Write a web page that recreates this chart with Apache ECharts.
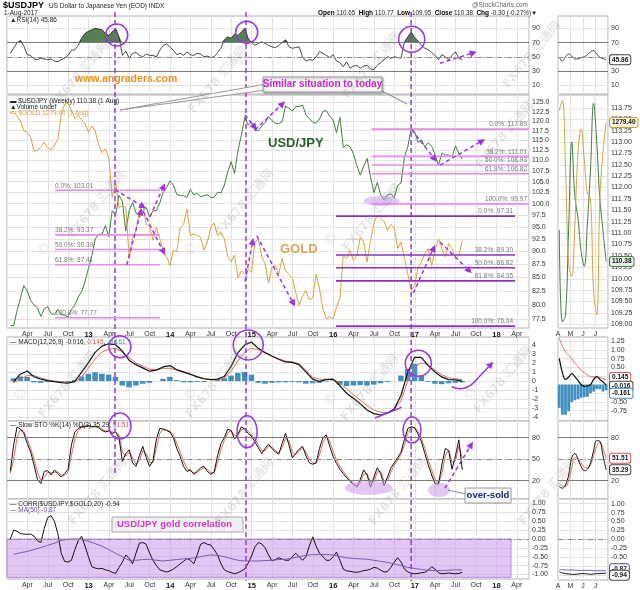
<!DOCTYPE html>
<html><head><meta charset="utf-8">
<script src="https://cdn.jsdelivr.net/npm/echarts@6/dist/echarts.min.js"></script>
<style>html,body{margin:0;padding:0;background:#fff}#c{width:640px;height:590px}</style>
</head><body><div id="c"></div>
<script>
const FONT = 'Liberation Sans, Arial, Helvetica, sans-serif';

// ---------- sampling positions (fractional years / months) ----------
const halfMonthStart = 2012.04, halfMonthStep = 1 / 24;   // semi-monthly samples
const monthStart = 2012.08, monthStep = 1 / 12;            // monthly samples
const sideStart = 0.1, sideStep = 0.25;                    // side panel: months from 1 Apr 2017

// ---------- main panel data ----------
const usdjpy = [
  76.5, 76.4, 79.0, 81.2, 83.5, 82.5, 80.8, 80.0, 79.5, 78.0,
  79.3, 79.7, 78.5, 78.3, 79.2, 78.3, 78.2, 77.9, 79.2, 80.0,
  81.4, 82.4, 84.2, 86.7, 89.2, 92.5, 93.5, 93.5, 95.3, 93.0,
  98.5, 97.5, 101.9, 100.5, 94.2, 98.5, 100.3, 98.0, 97.5, 98.4,
  99.2, 97.2, 98.4, 98.5, 100.2, 102.5, 103.6, 105.2, 104.2, 102.1,
  101.8, 101.8, 101.4, 103.2, 102.0, 102.3, 101.5, 101.8, 102.0, 101.4,
  101.4, 102.6, 102.4, 104.2, 107.3, 109.7, 106.9, 112.4, 116.3, 121.0,
  118.9, 119.8, 117.5, 117.5, 118.7, 119.6, 121.2, 120.1, 119.4, 119.3,
  119.8, 124.1, 123.4, 122.7, 123.9, 123.9, 124.3, 121.7, 120.6, 119.8,
  119.4, 120.6, 122.6, 122.8, 121.3, 120.2, 117.0, 121.0, 113.2, 113.9,
  113.4, 111.6, 108.7, 106.5, 108.6, 110.5, 106.1, 102.5, 104.8, 102.0,
  100.8, 102.0, 102.2, 101.3, 104.2, 104.7, 110.9, 113.5, 118.2, 117.1,
  114.5, 115.1, 113.4, 114.4, 113.5, 111.4, 108.9, 111.8, 111.3, 111.4,
  110.9, 113.6, 111.8, 110.38
];
const gold = [
  1740, 1745, 1725, 1705, 1665, 1660, 1640, 1585, 1590, 1600,
  1620, 1600, 1590, 1610, 1630, 1730, 1775, 1780, 1750, 1715,
  1730, 1710, 1695, 1660, 1685, 1665, 1610, 1580, 1595, 1560,
  1420, 1470, 1385, 1390, 1385, 1225, 1290, 1310, 1375, 1395,
  1330, 1325, 1280, 1320, 1285, 1250, 1230, 1205, 1250, 1245,
  1320, 1330, 1380, 1295, 1300, 1295, 1290, 1250, 1275, 1320,
  1335, 1295, 1305, 1285, 1230, 1215, 1235, 1170, 1190, 1180,
  1195, 1185, 1275, 1285, 1230, 1210, 1155, 1200, 1205, 1180,
  1225, 1190, 1180, 1170, 1130, 1095, 1120, 1135, 1110, 1115,
  1180, 1140, 1085, 1060, 1065, 1060, 1090, 1115, 1235, 1225,
  1250, 1220, 1235, 1290, 1275, 1215, 1280, 1335, 1360, 1350,
  1340, 1310, 1330, 1320, 1255, 1275, 1225, 1180, 1135, 1150,
  1200, 1215, 1240, 1255, 1205, 1250, 1285, 1255, 1230, 1270,
  1255, 1225, 1235, 1279.4
];
const rsi14 = [
  55, 62, 70, 73, 65, 53, 52, 47, 46, 48,
  47, 46, 47, 44, 43, 46, 48, 52, 59, 60,
  66, 76, 83, 86, 88, 90, 89, 88, 83, 80,
  85, 90, 78, 52, 58, 48, 55, 56, 52, 50,
  54, 52, 52, 50, 59, 66, 68, 64, 59, 53,
  55, 52, 57, 53, 52, 55, 54, 50, 51, 49,
  50, 56, 62, 74, 78, 76, 82, 80, 85, 90,
  76, 70, 66, 69, 71, 69, 66, 64, 63, 66,
  70, 74, 64, 62, 63, 64, 50, 44, 46, 45,
  50, 57, 55, 52, 49, 53, 44, 42, 36, 43,
  34, 37, 38, 34, 37, 38, 33, 32, 38, 42,
  46, 50, 48, 50, 49, 48, 71, 78, 85, 77,
  72, 66, 62, 60, 56, 52, 46, 53, 50, 46,
  52, 57, 48, 45.86
];
const stoK = [
  33, 70, 95, 92, 86, 72, 60, 42, 22, 16,
  33, 34, 28, 35, 30, 25, 30, 36, 70, 88,
  93, 95, 96, 97, 95, 96, 94, 90, 88, 90,
  86, 88, 80, 47, 58, 63, 45, 40, 55, 68,
  52, 40, 48, 78, 93, 92, 90, 88, 80, 65,
  54, 40, 33, 35, 29, 33, 38, 40, 33, 29,
  32, 55, 72, 80, 92, 90, 78, 85, 95, 92,
  86, 82, 74, 66, 58, 65, 71, 65, 60, 57,
  72, 86, 70, 52, 58, 64, 68, 55, 45, 43,
  45, 65, 80, 84, 68, 54, 44, 36, 30, 24,
  19, 15, 11, 22, 35, 28, 11, 25, 38, 30,
  13, 25, 38, 45, 52, 60, 78, 93, 95, 94,
  85, 74, 58, 42, 28, 16, 15, 42, 65, 62,
  36, 55, 77, 35.29
];
const stoD = [
  30, 50, 80, 92, 89, 78, 65, 50, 32, 20,
  25, 32, 31, 32, 32, 28, 28, 32, 55, 78,
  90, 94, 95, 96, 96, 95, 95, 92, 89, 89,
  88, 87, 84, 60, 54, 60, 52, 43, 48, 62,
  58, 46, 45, 65, 86, 92, 91, 89, 84, 72,
  60, 47, 37, 34, 31, 32, 35, 38, 36, 31,
  31, 45, 64, 76, 87, 90, 83, 83, 91, 93,
  89, 84, 78, 70, 62, 62, 68, 67, 62, 59,
  66, 79, 76, 60, 56, 61, 66, 60, 50, 45,
  44, 56, 73, 82, 75, 61, 49, 40, 33, 27,
  21, 17, 13, 17, 29, 30, 18, 19, 32, 33,
  20, 20, 32, 42, 49, 57, 70, 87, 94, 94,
  89, 79, 65, 49, 35, 22, 16, 30, 55, 63,
  46, 48, 68, 51.51
];
const corr20 = [
  0.0, 0.25, 0.22, 0.15, 0.14, 0.13, 0.14, 0.08, -0.05, -0.1,
  0.3, 0.6, 0.66, 0.5, 0.15, -0.4, -0.63, -0.65, -0.6, -0.3,
  -0.05, 0.08, -0.2, -0.5, -0.78, -0.82, -0.84, -0.83, -0.87, -0.89,
  -0.94, -0.97, -0.8, -0.65, -0.45, -0.55, -0.7, -0.4, -0.12, -0.1,
  -0.15, -0.4, -0.6, -0.75, -0.87, -0.9, -0.93, -0.9, -0.85, -0.78,
  -0.7, -0.63, -0.55, -0.6, -0.7, -0.45, -0.15, -0.1, -0.15, -0.17,
  -0.3, -0.45, -0.7, -0.87, -0.92, -0.95, -0.98, -0.95, -0.9, -0.85,
  -0.68, -0.48, -0.22, -0.1, -0.14, -0.25, -0.45, -0.62, -0.58, -0.53,
  -0.57, -0.6, -0.6, -0.5, -0.4, -0.5, -0.6, -0.5, -0.2, 0.06,
  -0.2, -0.4, -0.5, -0.6, -0.6, -0.5, -0.37, -0.6, -0.85, -0.9,
  -0.91, -0.93, -0.94, -0.92, -0.89, -0.88, -0.85, -0.8, -0.82, -0.88,
  -0.93, -0.92, -0.8, -0.65, -0.53, -0.65, -0.85, -0.93, -0.97, -0.98,
  -0.97, -0.95, -0.94, -0.88, -0.78, -0.85, -0.95, -0.98, -0.97, -0.96,
  -0.97, -0.98, -0.97, -0.94
];
const macdLine = [
  -0.1, 0.75, 1.1, 0.47, 0.2, 0.05, -0.07, -0.18, -0.25, -0.05,
  0.95, 2.0, 3.15, 3.85, 4.1, 4.0, 3.3, 2.3, 1.8, 1.45,
  1.08, 1.2, 1.55, 1.7, 1.25, 1.0, 0.75, 0.45, 0.25, 0.15,
  0.2, 0.5, 1.6, 3.1, 3.95, 4.3, 3.6, 3.15, 2.75, 2.4,
  2.1, 2.05, 1.8, 1.0, 0.2, -0.05, 0.15, 0.2, -0.5, -1.35,
  -1.9, -2.5, -3.2, -3.6, -3.75, -3.55, -3.1, -1.6, 0.95, 2.6,
  2.6, 1.7, 1.0, 0.45, 0.15, 0.12, -0.016
];
const macdSignal = [
  -0.2, 0.2, 0.6, 0.6, 0.35, 0.12, 0.0, -0.1, -0.18, -0.12,
  0.4, 1.4, 2.4, 3.2, 3.5, 3.6, 3.2, 2.6, 2.0, 1.65,
  1.3, 1.25, 1.4, 1.4, 1.2, 0.95, 0.75, 0.5, 0.3, 0.15,
  0.1, 0.35, 1.05, 2.2, 3.2, 3.6, 3.45, 3.1, 2.75, 2.45,
  2.2, 2.1, 1.9, 1.2, 0.4, 0.2, 0.2, 0.19, -0.2, -0.85,
  -1.5, -2.1, -2.7, -3.2, -3.45, -3.5, -3.1, -2.2, 0.0, 1.5,
  2.0, 1.8, 1.2, 0.7, 0.35, 0.25, 0.145
];
const macdHist = [
  0.3, 0.5, 0.45, -0.15, -0.2, -0.1, -0.1, -0.1, -0.1, 0.1,
  0.5, 0.8, 0.95, 0.8, 0.7, 0.45, -0.5, -0.7, -0.5, -0.3,
  -0.2, 0.0, 0.25, 0.45, 0.1, -0.15, -0.15, -0.1, -0.1, 0.0,
  0.15, 0.3, 0.6, 0.9, 1.0, 0.7, -0.2, -0.3, -0.2, -0.15,
  -0.15, -0.1, -0.15, -0.3, -0.25, -0.2, -0.05, 0.05, -0.4, -0.55,
  -0.5, -0.45, -0.5, -0.4, -0.25, -0.1, 0.0, 0.6, 1.3, 1.9,
  0.6, -0.1, -0.3, -0.35, -0.25, -0.2, -0.161
];
const corrMa50 = [
  -0.43, -0.39, -0.35, -0.3, -0.24, -0.18, -0.12, -0.04, -0.01, 0.0,
  -0.01, -0.06, -0.13, -0.2, -0.3, -0.4, -0.5, -0.6, -0.6, -0.58,
  -0.57, -0.6, -0.62, -0.6, -0.58, -0.56, -0.55, -0.52, -0.48, -0.45,
  -0.46, -0.5, -0.55, -0.6, -0.62, -0.62, -0.62, -0.61, -0.6, -0.58,
  -0.57, -0.54, -0.5, -0.46, -0.44, -0.44, -0.44, -0.45, -0.49, -0.53,
  -0.55, -0.56, -0.57, -0.6, -0.63, -0.66, -0.7, -0.75, -0.8, -0.83,
  -0.86, -0.88, -0.89, -0.89, -0.88, -0.87, -0.87
];

// ---------- side panel data (Apr-Jul 2017) ----------
const sideRsi = [49.3, 44, 50, 54, 51, 47, 47, 49, 50, 53, 57, 59, 54, 49, 47.5, 45.86];
const sideUsd = [111.07, 109.05, 109.2, 111.1, 113.0, 111.8, 111.33, 110.6, 110.27, 111.2, 112.4, 113.85, 113.0, 111.75, 111.05, 110.38];
const sideGold = [1284, 1288, 1262, 1225, 1220, 1240, 1268, 1277, 1265, 1252, 1250, 1214, 1205, 1250, 1268, 1279.4];
const sideMacd = [0.76, 0.35, 0.15, 0.22, 0.32, 0.23, 0.12, 0.0, -0.05, -0.04, 0.0, 0.15, 0.23, 0.15, 0.08, -0.016];
const sideSignal = [1.35, 1.1, 0.95, 0.85, 0.75, 0.62, 0.52, 0.42, 0.35, 0.28, 0.23, 0.22, 0.23, 0.2, 0.17, 0.145];
const sideHist = [-0.67, -0.87, -0.87, -0.77, -0.5, -0.45, -0.42, -0.38, -0.36, -0.35, -0.25, -0.2, -0.13, -0.13, -0.2, -0.161];
const sideK = [12, 9.5, 14, 28, 52, 58, 50, 40, 34, 36, 45, 62, 76, 75, 55, 35.29];
const sideD = [16, 12.5, 12, 20, 38, 52, 51, 45, 39, 38, 42, 55, 68, 74, 65, 51.51];
const sideCorr = [-0.9, -0.93, -0.95, -0.96, -0.97, -0.97, -0.96, -0.95, -0.95, -0.96, -0.97, -0.96, -0.95, -0.95, -0.94, -0.94];
const sideMa = [-0.84, -0.84, -0.85, -0.85, -0.85, -0.85, -0.86, -0.86, -0.86, -0.86, -0.86, -0.87, -0.87, -0.87, -0.87, -0.87];

// ---------- tick labels ----------
const quarterLabels = ['', 'Apr', 'Jul', 'Oct'];
const sideMonthLabels = ['A', 'M', 'J', 'J'];
const rsiTicks = [10, 30, 50, 70, 90];
const priceTicks = [77.5, 80, 82.5, 85, 87.5, 90, 92.5, 95, 97.5, 100, 102.5, 105, 107.5, 110, 112.5, 115, 117.5, 120, 122.5, 125];
const sidePriceTicks = [109, 109.25, 109.5, 109.75, 110, 110.25, 110.5, 110.75, 111, 111.25, 111.5, 111.75, 112, 112.25, 112.5, 112.75, 113, 113.25, 113.5, 113.75];
const macdTicks = [-4, -3, -2, -1, 0, 1, 2, 3, 4];
const sideMacdTicks = [-0.75, -0.5, -0.25, 0, 0.25, 0.5, 0.75, 1, 1.25];
const stoTicks = [20, 50, 80];
const corrTicks = [-1, -0.75, -0.5, -0.25, 0, 0.25, 0.5, 0.75, 1];
const RSI_OB = 70;

// ---------- annotations (data coordinates) ----------
const vLines = [2013.324, 2014.93, 2016.955];
const fib2013 = [['0.0%: 103.01', 103.01], ['38.2%: 93.37', 93.37], ['50.0%: 90.39', 90.39], ['61.8%: 87.41', 87.41], ['100.0%: 77.77', 77.77]];
const fibUsd16 = [['0.0%: 117.89', 117.89], ['38.2%: 111.01', 111.01], ['50.0%: 108.93', 108.93], ['61.8%: 106.82', 106.82], ['100.0%: 99.97', 99.97]];
const fibGold16 = [['0.0%: 97.31', 97.31], ['38.2%: 89.30', 89.30], ['50.0%: 86.82', 86.82], ['61.8%: 84.35', 84.35], ['100.0%: 76.34', 76.34]];
const priceArrows = [
  [2013.324, 103.1, 2013.704, 99.0], [2013.753, 97.2, 2013.937, 104.6],
  [2013.468, 87.4, 2013.652, 99.0], [2013.671, 98.3, 2013.937, 89.3],
  [2014.918, 121.7, 2015.062, 117.7], [2015.041, 117.7, 2015.409, 125.3],
  [2014.918, 84.2, 2015.020, 92.7], [2015.062, 93.2, 2015.531, 79.7],
  [2016.962, 117.7, 2017.268, 109.7], [2017.309, 108.9, 2017.861, 115.3],
  [2016.982, 82.1, 2017.248, 91.3], [2017.309, 91.9, 2017.698, 85.8]
];

const pairs = (vals, start, step) => vals.map((v, i) => [start + i * step, v]);

function qLabel(v) {
  const y = Math.floor(v + 1e-6);
  const f = (v - y) * 4;
  const q = Math.round(f);
  if (Math.abs(f - q) > 0.02 || q > 3) return '';
  if (q === 0) return v < 2012.5 ? '' : '{b|' + String(y).slice(2) + '}';
  return quarterLabels[q];
}

const chart = echarts.init(document.getElementById('c'), null, { renderer: 'canvas' });

const gridBase = { show: true, borderColor: '#b0b0b0', borderWidth: 1, backgroundColor: '#fff' };
const rows = [[16, 78], [95, 233], [337, 84], [421, 78], [499, 83]];
const grids = [];
rows.forEach(r => grids.push(Object.assign({ left: 7, right: 111, top: r[0], height: r[1] }, gridBase)));
rows.forEach(r => grids.push(Object.assign({ left: 558, right: 32, top: r[0], height: r[1] }, gridBase)));

const SPLIT = { show: true, lineStyle: { color: '#e2e2e2', width: 1 } };
const xAxes = [];
for (let g = 0; g < 5; g++) {
  xAxes.push({
    type: 'value', gridIndex: g, min: 2012, max: 2018.4, interval: 0.25,
    axisLine: { show: false }, axisTick: { show: false }, splitLine: SPLIT,
    axisLabel: { show: g === 1 || g === 4, formatter: qLabel, fontSize: 7, color: '#333', margin: 3, fontFamily: FONT,
      showMinLabel: false, showMaxLabel: false, rich: { b: { fontWeight: 'bold', fontSize: 7.5, color: '#111', fontFamily: FONT } } }
  });
}
for (let g = 5; g < 10; g++) {
  xAxes.push({
    type: 'value', gridIndex: g, min: 0, max: 4, interval: 1,
    axisLine: { show: false }, axisTick: { show: false }, splitLine: SPLIT,
    axisLabel: { show: g === 6 || g === 9, formatter: v => sideMonthLabels[Math.round(v)] || '', fontSize: 7, color: '#333', margin: 3, fontFamily: FONT, showMaxLabel: false }
  });
}

function yax(grid, min, max, ticks, fmt, extra) {
  return Object.assign({
    type: 'value', gridIndex: grid, position: 'right', min: min, max: max,
    axisLine: { show: false }, axisTick: { show: false, customValues: ticks },
    axisLabel: { customValues: ticks, formatter: fmt, fontSize: 7, color: '#333', margin: 3, fontFamily: FONT },
    splitLine: SPLIT
  }, extra || {});
}
const f0 = v => String(v), f1 = v => v.toFixed(1), f2 = v => v.toFixed(2);
const yAxes = [
  yax(0, -2.2, 107.3, rsiTicks, f0),
  yax(1, 76.03, 127.1, priceTicks, f1, { type: 'log', logBase: 10 }),
  { type: 'log', logBase: 10, gridIndex: 1, show: false, min: 1037, max: 1815 },
  yax(2, -4.41, 4.85, macdTicks, f0),
  yax(3, -5.5, 103.3, stoTicks, f0),
  yax(4, -1.128, 1.128, corrTicks, f2),
  yax(5, -2.2, 107.3, rsiTicks, f0),
  yax(6, 108.92, 114.03, sidePriceTicks, f2),
  { type: 'value', gridIndex: 6, show: false, min: 1200, max: 1290 },
  yax(7, -1.05, 1.375, sideMacdTicks, f2),
  yax(8, -5.5, 103.3, stoTicks, f0),
  yax(9, -1.128, 1.128, corrTicks, f2)
];

const refLines = (solid, dashed) => ({
  silent: true, symbol: ['none', 'none'], label: { show: false }, animation: false,
  data: solid.map(v => ({ yAxis: v, lineStyle: { color: '#7a7a7a', width: 1, type: 'solid' } }))
    .concat(dashed.map(v => ({ yAxis: v, lineStyle: { color: '#8a8a8a', width: 1, type: [5, 2, 1, 2] } })))
});

const series = [];
const idx = {};
function add(name, s) { idx[name] = series.length; series.push(Object.assign({ name: name, animation: false, silent: true }, s)); }
function L(xa, ya, data, color, width, extra) {
  return Object.assign({ type: 'line', xAxisIndex: xa, yAxisIndex: ya, data: data, showSymbol: false, symbol: 'none',
    lineStyle: { color: color, width: width }, z: 3 }, extra || {});
}
const H = (v) => pairs(v, halfMonthStart, halfMonthStep);
const M = (v) => pairs(v, monthStart, monthStep);
const S = (v) => pairs(v, sideStart, sideStep);

// main RSI, with the overbought zone (above 70) filled from the 70 line
add('rsiOB', L(0, 0, H(rsi14.map(v => Math.max(v, RSI_OB))), '#000', 0, { lineStyle: { width: 0, opacity: 0 }, areaStyle: { origin: RSI_OB, color: '#4e774e', opacity: 0.95 }, z: 2 }));
add('rsi', L(0, 0, H(rsi14), '#1a1a1a', 0.8, { markLine: refLines([70, 30], [50]) }));
// price
add('usd', L(1, 1, H(usdjpy), '#3f7f3f', 1));
add('gold', L(1, 2, H(gold), '#dba23c', 1));
// MACD
add('hist', { type: 'bar', xAxisIndex: 2, yAxisIndex: 3, data: M(macdHist), barWidth: 5.5, itemStyle: { color: '#3f8fbf' }, z: 2 });
add('signal', L(2, 3, M(macdSignal), '#e06b5e', 1));
add('macd', L(2, 3, M(macdLine), '#111', 1.2));
// STO
add('stoD', L(3, 4, H(stoD), '#e06b5e', 1, { markLine: refLines([80, 20], [50]) }));
add('stoK', L(3, 4, H(stoK), '#111', 1));
// CORR
add('corr', L(4, 5, H(corr20), '#111', 1, {
  z: 4,
  markLine: refLines([], [0]),
  markArea: { silent: true, itemStyle: { color: 'rgba(205,160,240,0.6)', borderColor: '#b888e0', borderWidth: 1 },
    data: [[{ xAxis: 2012, yAxis: 0 }, { xAxis: 2018.18, yAxis: -1.08 }]] }
}));
add('ma', L(4, 5, M(corrMa50), '#7a5cae', 1, { z: 4 }));
// side panels
add('sRsi', L(5, 6, S(sideRsi), '#1a1a1a', 0.8, { smooth: 0.3, markLine: refLines([70, 30], [50]) }));
add('sUsd', L(6, 7, S(sideUsd), '#3f7f3f', 1, { smooth: 0.4 }));
add('sGold', L(6, 8, S(sideGold), '#dba23c', 1, { smooth: 0.4 }));
add('sHist', { type: 'bar', xAxisIndex: 7, yAxisIndex: 9, data: S(sideHist), barWidth: 2.8, itemStyle: { color: '#3f8fbf' }, z: 2 });
add('sSignal', L(7, 9, S(sideSignal), '#e06b5e', 1, { smooth: 0.4 }));
add('sMacd', L(7, 9, S(sideMacd), '#111', 1.2, { smooth: 0.4 }));
add('sD', L(8, 10, S(sideD), '#e06b5e', 1, { smooth: 0.4, markLine: refLines([80, 20], [50]) }));
add('sK', L(8, 10, S(sideK), '#111', 1, { smooth: 0.4 }));
add('sCorr', L(9, 11, S(sideCorr), '#111', 1, { smooth: 0.3, markLine: refLines([], [0]) }));
add('sMa', L(9, 11, S(sideMa), '#7a5cae', 1, { smooth: 0.3 }));

chart.setOption({
  backgroundColor: '#fff', animation: false, textStyle: { fontFamily: FONT },
  grid: grids, xAxis: xAxes, yAxis: yAxes, series: series
});

// ---------- annotation layer ----------
const G = [];
const P = (s, x, y) => chart.convertToPixel({ seriesIndex: idx[s] }, [x, y]);
const PURPLE = '#9b35e0';
function txt(x, y, text, opt) {
  G.push({ type: 'text', x: x, y: y, z: 70, silent: true,
    style: Object.assign({ text: text, fill: '#222', fontSize: 7, fontFamily: FONT, align: 'left', verticalAlign: 'middle' }, opt || {}) });
}
function seg(x1, y1, x2, y2, color, w, dash) {
  G.push({ type: 'line', z: 60, silent: true, shape: { x1: x1, y1: y1, x2: x2, y2: y2 }, style: { stroke: color, lineWidth: w, lineDash: dash || null } });
}
function arrowPx(a, b, dashed, color) {
  const dx = b[0] - a[0], dy = b[1] - a[1], Ln = Math.hypot(dx, dy), ux = dx / Ln, uy = dy / Ln;
  const hl = 7, hw = 3.5, bx = b[0] - ux * hl, by = b[1] - uy * hl;
  seg(a[0], a[1], bx, by, color, 1.5, dashed ? [4, 3] : null);
  G.push({ type: 'polygon', z: 61, silent: true, shape: { points: [[b[0], b[1]], [bx - uy * hw, by + ux * hw], [bx + uy * hw, by - ux * hw]] }, style: { fill: color } });
}
function ell(cx, cy, rx, ry, stroke, fill) {
  G.push({ type: 'ellipse', z: 58, silent: true, shape: { cx: cx, cy: cy, rx: rx, ry: ry }, style: { stroke: stroke || 'none', fill: fill || 'none', lineWidth: 1.5 } });
}

// watermarks
[[80, 75], [218, 80], [372, 66], [532, 55], [97, 205], [245, 203], [372, 218], [505, 135], [68, 385], [215, 385], [370, 388], [503, 380], [98, 492], [245, 492], [398, 492], [548, 492]].forEach(p => {
  G.push({ type: 'text', x: p[0], y: p[1], rotation: 0.87, z: 90, silent: true,
    style: { text: 'FX678 汇通网', fill: 'rgba(140,140,140,0.22)', fontSize: 12, fontWeight: 'bold', fontFamily: 'DejaVu Sans, Noto Sans CJK SC, sans-serif', align: 'center', verticalAlign: 'middle' } });
});
[[43, 250], [190, 250], [330, 240], [20, 395], [190, 395], [330, 400], [470, 395], [610, 230]].forEach(p => {
  txt(p[0], p[1], '©', { fill: 'rgba(140,140,140,0.25)', fontSize: 15, align: 'center' });
});

// vertical dashed lines
vLines.forEach((t, k) => {
  const x = P('usd', t, 100)[0];
  seg(x, 12, x, k === 0 ? 473 : 581, PURPLE, 1.5, [5, 3]);
});

// fib lines
function fibSet(levels, t1, t2, color, alignRight) {
  levels.forEach(l => {
    const a = P('usd', t1, l[1]), b = P('usd', t2, l[1]);
    seg(a[0], a[1], b[0], b[1], color, 1.6);
    if (alignRight) txt(b[0] - 2, a[1] - 4.5, l[0], { fill: '#777', fontSize: 6.5, align: 'right' });
    else txt(a[0], a[1] - 4.5, l[0], { fill: '#777', fontSize: 6.5 });
  });
}
fibSet(fib2013, 2012.589, 2013.876, '#e98ae9', false);
fibSet(fibUsd16, 2016.472, 2018.4, '#e98ae9', true);
fibSet(fibGold16, 2016.034, 2018.229, '#8a2fc8', true);

// arrows in price panel
priceArrows.forEach(a => arrowPx(P('usd', a[0], a[1]), P('usd', a[2], a[3]), true, PURPLE));
// RSI arrow
arrowPx(P('rsi', 2017.309, 40.9), P('rsi', 2017.759, 57.2), true, PURPLE);
// STO arrow
arrowPx(P('stoK', 2017.37, 9.8), P('stoK', 2017.713, 74.4), true, PURPLE);
// MACD curved arrow
const mc = [[2017.452, -0.63], [2017.615, -0.77], [2017.775, 0.33], [2017.93, 1.9]].map(p => P('macd', p[0], p[1]));
G.push({ type: 'polyline', z: 60, silent: true, shape: { points: mc.slice(0, 3), smooth: 0.5 }, style: { stroke: PURPLE, lineWidth: 1.5, fill: 'none' } });
arrowPx(mc[2], P('macd', 2017.963, 2.13), false, PURPLE);
const ml1 = P('macd', 2016.512, -4.08), ml2 = P('macd', 2016.839, -2.9);
seg(ml1[0], ml1[1], ml2[0], ml2[1], PURPLE, 1.5);

// circles
[['rsi', 2013.345, 80.6, 11], ['rsi', 2014.939, 84.4, 11], ['rsi', 2016.962, 74.6, 13],
 ['macd', 2013.385, 3.78, 11], ['macd', 2014.958, 3.97, 15], ['macd', 2017.043, 1.95, 13]].forEach(c => {
  const p = P(c[0], c[1], c[2]); ell(p[0], p[1], c[3], c[3], PURPLE);
});
[[2013.385, 96.3, 11, 13], [2014.943, 88.4, 10, 16], [2016.966, 90.7, 9, 13]].forEach(c => {
  const p = P('stoK', c[0], c[1]); ell(p[0], p[1], c[2], c[3], PURPLE);
});
[[2016.438, 9.8, 24, 7], [2017.297, 7, 11, 7]].forEach(c => {
  const p = P('stoK', c[0], c[1]); ell(p[0], p[1], c[2], c[3], null, 'rgba(205,160,240,0.6)');
});
const ue = P('usd', 2016.594, 100.6); ell(ue[0], ue[1], 18, 5, null, 'rgba(205,160,240,0.6)');

// callout "Similar situation to today"
const vx0 = P('usd', vLines[0], 100)[0], vx2 = P('usd', vLines[2], 100)[0];
G.push({ type: 'polygon', z: 62, silent: true, shape: { points: [[266, 84], [266, 90], [vx0 + 5, 110]] }, style: { fill: '#fafafa', stroke: '#999', lineWidth: 1 } });
G.push({ type: 'polygon', z: 62, silent: true, shape: { points: [[372, 86], [380, 90], [vx2 - 4, 104]] }, style: { fill: '#fafafa', stroke: '#999', lineWidth: 1 } });
G.push({ type: 'rect', z: 63, silent: true, shape: { x: 263, y: 77, width: 119, height: 15 }, style: { fill: '#f7f7f7', stroke: '#999', lineWidth: 1, shadowBlur: 2, shadowColor: 'rgba(0,0,0,0.3)', shadowOffsetX: 1, shadowOffsetY: 1 } });
G.push({ type: 'text', x: 322.5, y: 84.5, z: 64, silent: true, style: { text: 'Similar situation to today', fill: '#cc22cc', fontSize: 10, fontWeight: 'bold', fontFamily: FONT, align: 'center', verticalAlign: 'middle' } });

txt(75, 79, 'www.angraders.com', { fill: '#e8921e', fontSize: 10.5, fontWeight: 'bold' });
txt(268, 143, 'USD/JPY', { fill: '#2d5f2d', fontSize: 13, fontWeight: 'bold' });
txt(280, 249, 'GOLD', { fill: '#e3a458', fontSize: 13, fontWeight: 'bold' });

// over-sold box
seg(448, 490, 466, 494, '#888', 1);
G.push({ type: 'rect', z: 63, silent: true, shape: { x: 465, y: 488, width: 46, height: 15 }, style: { fill: '#f7f7f7', stroke: '#999', lineWidth: 1 } });
txt(488, 495.5, 'over-sold', { fill: '#1c2a78', fontSize: 9.5, fontWeight: 'bold', align: 'center' });

// correlation box
G.push({ type: 'rect', z: 63, silent: true, shape: { x: 112, y: 517, width: 131, height: 15 }, style: { fill: '#efefef', stroke: '#aaa', lineWidth: 1 } });
txt(117, 524.5, 'USD/JPY gold correlation', { fill: '#d633c8', fontSize: 9.5, fontWeight: 'bold' });

// headers
txt(3, 6, '$USDJPY', { fill: '#000', fontSize: 9, fontWeight: 'bold' });
txt(49, 6, 'US Dollar to Japanese Yen (EOD) INDX', { fill: '#222', fontSize: 6.5 });
txt(4, 13, '1-Aug-2017', { fill: '#222', fontSize: 6.5 });
txt(10, 20, '▲RSI(14) 45.86', { fill: '#222', fontSize: 6.5 });
txt(528, 5.5, '@StockCharts.com', { fill: '#666', fontSize: 6.5, align: 'right' });
G.push({ type: 'text', x: 318, y: 13, z: 70, silent: true, style: {
  text: '{b|Open} 110.65  {b|High} 110.77  {b|Low} 109.95  {b|Close} 110.38  {b|Chg} -0.30 (-0.27%)▼',
  fill: '#222', fontSize: 6.3, fontFamily: FONT, verticalAlign: 'middle',
  rich: { b: { fontWeight: 'bold', fontSize: 6.5, fill: '#000', fontFamily: FONT } } } });

// panel legends
txt(10, 101, '▬ $USDJPY (Weekly) 110.38 (1 Aug)', { fill: '#222', fontSize: 6.5 });
txt(10, 107, '▲Volume undef', { fill: '#222', fontSize: 6.5 });
txt(10, 113, '— $GOLD 1279.40 (1 Aug)', { fill: '#d6a24a', fontSize: 6.5 });
G.push({ type: 'text', x: 10, y: 342, z: 70, silent: true, style: {
  text: '— MACD(12,26,9) -0.016, {r|0.145}, {u|-0.161}', fill: '#222', fontSize: 6.5, fontFamily: FONT, verticalAlign: 'middle',
  rich: { r: { fill: '#d9534f', fontSize: 6.5 }, u: { fill: '#3f8fbf', fontSize: 6.5 } } } });
G.push({ type: 'text', x: 10, y: 425, z: 70, silent: true, style: {
  text: '— Slow STO %K(14) %D(3) 35.29, {r|51.51}', fill: '#222', fontSize: 6.5, fontFamily: FONT, verticalAlign: 'middle',
  rich: { r: { fill: '#d9534f', fontSize: 6.5 } } } });
txt(10, 504, '— CORR($USDJPY,$GOLD,20) -0.94', { fill: '#222', fontSize: 6.5 });
txt(10, 510.5, '— MA(50) -0.87', { fill: '#6a4ca0', fontSize: 6.5 });

// side value tags
function tag(s, x, v, text, border, bg, dy) {
  const p = P(s, x, v);
  G.push({ type: 'text', x: 610, y: p[1] + (dy || 0), z: 80, silent: true, style: {
    text: text, fill: '#111', fontSize: 6.5, fontFamily: FONT, verticalAlign: 'middle', fontWeight: 'bold',
    backgroundColor: bg || '#fff', borderColor: border, borderWidth: 1, borderRadius: 2, padding: [1, 2] } });
}
tag('sRsi', 3.85, 45.86, '45.86', '#444');
tag('sGold', 3.85, 1279.4, '1279.40', '#c9a040', '#fff6dc');
tag('sUsd', 3.85, 110.38, '110.38', '#3f7f3f', '#e6f2e6');
tag('sSignal', 3.85, 0.145, '0.145', '#d9534f', '#fff', -2);
tag('sMacd', 3.85, -0.016, '-0.016', '#444', '#fff', 1);
tag('sHist', 3.85, -0.161, '-0.161', '#3f8fbf', '#fff', 3);
tag('sD', 3.85, 51.51, '51.51', '#d9534f', '#fff');
tag('sK', 3.85, 35.29, '35.29', '#444', '#fff');
tag('sMa', 3.85, -0.87, '-0.87', '#6a4ca0', '#fff', -2);
tag('sCorr', 3.85, -0.94, '-0.94', '#444', '#fff', 2);

chart.setOption({ graphic: { elements: G } });
</script></body></html>
